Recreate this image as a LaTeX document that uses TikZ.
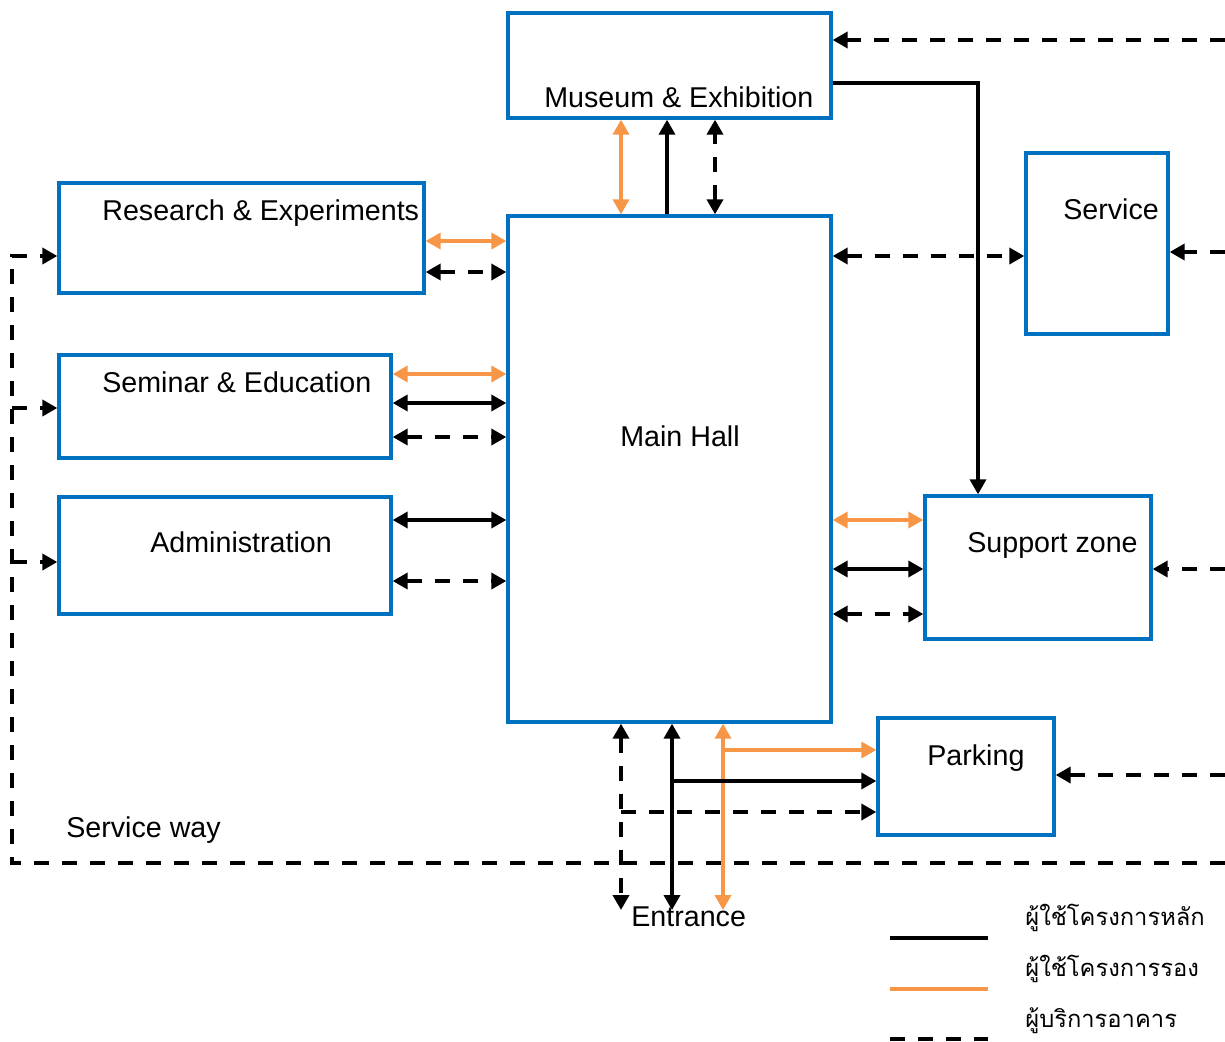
\documentclass[tikz,border=0pt]{standalone}
\usepackage{fontspec}
\setmainfont{Liberation Sans}
\newfontfamily\thaifont[Script=Thai]{Loma}
\usetikzlibrary{arrows.meta,fit}
\definecolor{zoneblue}{HTML}{0070C0}
\definecolor{guest}{HTML}{F79646}
\tikzset{
  zone/.style={draw=zoneblue, line width=1.9pt, inner sep=0pt, fit={#1}},
  lbl/.style={anchor=base west, inner sep=0pt, font=\fontsize{16.3}{19}\selectfont},
  thai/.style={anchor=base west, inner sep=0pt, font=\thaifont\fontsize{13.5}{16}\selectfont},
  main/.style={line width=2pt, black},
  guestline/.style={line width=2pt, guest},
  service/.style={line width=2.1pt, black, dash pattern=on 0.3cm off 0.26cm}
}

\begin{document}
\begin{tikzpicture}[x=0.02cm, y=-0.02cm, >={Triangle[length=0.3cm,width=0.32cm]}]
\useasboundingbox (0,0) rectangle (1225,1042);
% zones
\node[zone={(508,13) (831,118)}] (mus) {};
\node[zone={(508,216) (831,722)}] (hall) {};
\node[zone={(59,183) (424,293)}] (res) {};
\node[zone={(59,355) (391,458)}] (sem) {};
\node[zone={(59,497) (391,614)}] (adm) {};
\node[zone={(1026,153) (1168,334)}] (srv) {};
\node[zone={(925,496) (1151,639)}] (sup) {};
\node[zone={(878,718) (1054,835)}] (park) {};
% zone names
\node[lbl] (musT) at (544,107) {Museum \& Exhibition};
\node[lbl] (hallT) at (620,446) {Main Hall};
\node[lbl] (resT) at (102,220) {Research \& Experiments};
\node[lbl] (semT) at (102,392) {Seminar \& Education};
\node[lbl] (admT) at (150,552) {Administration};
\node[lbl] (srvT) at (1063,219) {Service};
\node[lbl] (supT) at (967,552) {Support zone};
\node[lbl] (parkT) at (927,765) {Parking};
\node[lbl] (swT) at (66,837) {Service way};
\node[lbl] (entT) at (631,926) {Entrance};

% museum <-> main hall
\draw[guestline,<->] (hall.north -| 621,0) -- (mus.south -| 621,0);
\draw[main,->] (hall.north -| 667,0) -- (mus.south -| 667,0);
\draw[service,<->] (hall.north -| 715,0) -- (mus.south -| 715,0);
\draw[main,->] (mus.east |- 0,83) -| (sup.north -| 978,0);

% left wing
\draw[guestline,<->] (res.east |- 0,241) -- (hall.west |- 0,241);
\draw[service,<->] (res.east |- 0,272) -- (hall.west |- 0,272);
\draw[guestline,<->] (sem.east |- 0,374) -- (hall.west |- 0,374);
\draw[main,<->] (sem.east |- 0,403) -- (hall.west |- 0,403);
\draw[service,<->] (sem.east |- 0,437) -- (hall.west |- 0,437);
\draw[main,<->] (adm.east |- 0,520) -- (hall.west |- 0,520);
\draw[service,<->] (adm.east |- 0,581) -- (hall.west |- 0,581);

% right wing
\draw[service,<->] (hall.east |- 0,256) -- (srv.west |- 0,256);
\draw[guestline,<->] (hall.east |- 0,520) -- (sup.west |- 0,520);
\draw[main,<->] (hall.east |- 0,569) -- (sup.west |- 0,569);
\draw[service,<->] (hall.east |- 0,614) -- (sup.west |- 0,614);

% service feeders from the edge
\coordinate (edge) at (1225,0);
\foreach \y/\z in {40/mus, 252/srv, 569/sup, 775/park}
  \draw[service,->] (edge |- 0,\y) -- (\z.east |- 0,\y);

% service way
\coordinate (swR) at (1225,863);
\coordinate (swL) at (12,863);
\draw[service,->] (swR) -- (swL) |- (res.west |- 0,256);
\draw[service,->] (swL |- 0,408) -- (sem.west |- 0,408);
\draw[service,->] (swL |- 0,562) -- (adm.west |- 0,562);

% entrance
\coordinate (entA) at (621,910);
\coordinate (entB) at (672,910);
\coordinate (entC) at (723,910);
\draw[service,<->] (hall.south -| entA) -- (entA);
\draw[main,<->] (hall.south -| entB) -- (entB);
\draw[guestline,<->] (hall.south -| entC) -- (entC);
\draw[guestline,->] (entC |- 0,750) -- (park.west |- 0,750);
\draw[main,->] (entB |- 0,781) -- (park.west |- 0,781);
\draw[service,->] (entA |- 0,812) -- (park.west |- 0,812);

% legend
\draw[main, line width=2.2pt] (890,938) -- (988,938);
\draw[guestline, line width=2.2pt] (890,989) -- (988,989);
\draw[service, line width=2.2pt] (890,1039) -- (988,1039);
\node[thai] (lg1) at (1025,925) {ผู้ใช้โครงการหลัก};
\node[thai] (lg2) at (1025,976) {ผู้ใช้โครงการรอง};
\node[thai] (lg3) at (1025,1027) {ผู้บริการอาคาร};
\end{tikzpicture}
\end{document}
